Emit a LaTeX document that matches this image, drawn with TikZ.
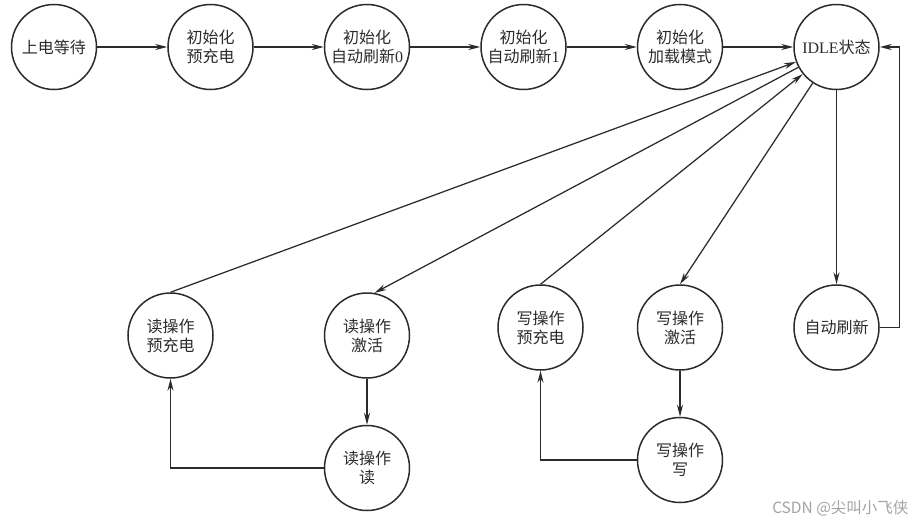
\documentclass[tikz,border=0pt]{standalone}
\usepackage{fontspec}
\setmainfont{Liberation Serif}
\newfontfamily\cjk{Noto Sans CJK SC}
\usetikzlibrary{arrows.meta,positioning}
\definecolor{inkdark}{HTML}{2B2B2B}
\definecolor{markgray}{HTML}{A3A3A3}

\begin{document}
\begin{tikzpicture}[
  node distance=46pt and 70pt,
  state/.style={circle, draw=inkdark, line width=1.5pt, minimum size=85pt,
                inner sep=0pt, align=center, text=inkdark,
                font=\cjk\fontsize{16pt}{19pt}\selectfont},
  arr/.style={-{Stealth[length=12pt,width=6pt]}, line width=1.25pt, draw=inkdark}
]
\useasboundingbox (-54pt,47pt) rectangle (862pt,-475pt);
\node[state] (wait) {上电等待};
\node[state, right=of wait] (pre) {初始化\\预充电};
\node[state, right=of pre] (ref0) {初始化\\自动刷新{\rmfamily 0}};
\node[state, right=of ref0] (ref1) {初始化\\自动刷新{\rmfamily 1}};
\node[state, right=of ref1] (load) {初始化\\加载模式};
\node[state, right=of load] (idle) {{\rmfamily IDLE}状态};
\node[state, below=202pt of ref0] (rdact) {读操作\\激活};
\node[state, below=of rdact] (rdread) {读操作\\读};
\node[state, left=110pt of rdact] (rdpre) {读操作\\预充电};
\node[state, below=194pt of load] (wract) {写操作\\激活};
\node[state, below=of wract] (wrwrite) {写操作\\写};
\node[state, left=53pt of wract] (wrpre) {写操作\\预充电};
\node[state, below=194pt of idle] (auto) {自动刷新};
\node[anchor=east, text=markgray, font=\cjk\fontsize{15.5pt}{18pt}\selectfont]
  (mark) at (858pt,-461pt) {CSDN @尖叫小飞侠};

\draw[arr] (wait) -- (pre);
\draw[arr] (pre) -- (ref0);
\draw[arr] (ref0) -- (ref1);
\draw[arr] (ref1) -- (load);
\draw[arr] (load) -- (idle);
\draw[arr] (rdpre.north) -- (idle);
\draw[arr] (idle) -- (rdact.80);
\draw[arr] (wrpre.north) -- (idle);
\draw[arr] (idle) -- (wract.north);
\draw[arr] (idle) -- (auto);
\draw[arr] (auto.east) -- ++(20pt,0) |- (idle.east);
\draw[arr] (rdact) -- (rdread);
\draw[arr] (rdread.west) -| (rdpre.south);
\draw[arr] (wract) -- (wrwrite);
\draw[arr] (wrwrite.west) -| (wrpre.south);
\end{tikzpicture}
\end{document}
